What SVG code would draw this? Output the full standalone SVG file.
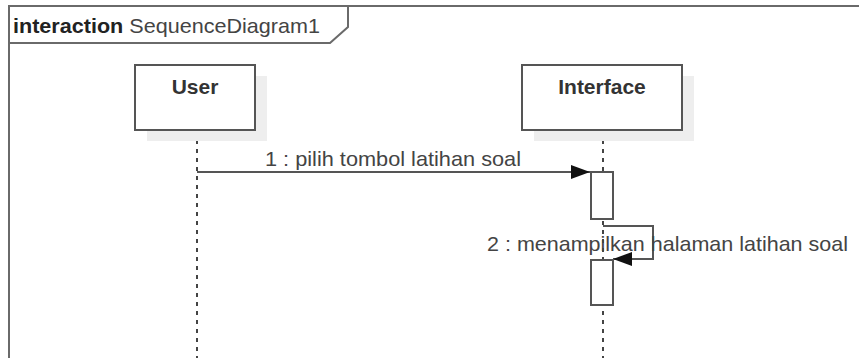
<svg xmlns="http://www.w3.org/2000/svg" width="859" height="358" viewBox="0 0 859 358">
  <defs>
    <marker id="arrowFilled" markerWidth="20" markerHeight="14" refX="19" refY="7" orient="auto" markerUnits="userSpaceOnUse">
      <path d="M0,0 L19,7 L0,14 Z" fill="#111"/>
    </marker>
    <style>
      .frame { fill: none; stroke: #6a6a6a; stroke-width: 2; }
      .box { fill: #fff; stroke: #555; stroke-width: 2; }
      .shadow { fill: #eeeeee; }
      .lifeline { stroke: #444; stroke-width: 2; stroke-dasharray: 4 5; fill: none; }
      .act { fill: #fff; stroke: #555; stroke-width: 2; }
      .msg { fill: none; stroke: #555; stroke-width: 2; }
      .name { font-family: "Liberation Sans", Arial, sans-serif; font-weight: bold; font-size: 21px; fill: #333; text-anchor: middle; }
      .label { font-family: "Liberation Sans", Arial, sans-serif; font-size: 21px; fill: #444; }
      .title { font-family: "Liberation Sans", Arial, sans-serif; font-size: 21px; fill: #444; }
    </style>
  </defs>
  <rect width="859" height="358" fill="#fff"/>

  <!-- interaction frame with name tab -->
  <g id="frame">
    <path class="frame" d="M9,358 L9,6 L859,6"/>
    <path class="frame" d="M9,43 L330,43 L348,27 L348,6"/>
    <text class="title" x="13" y="33" textLength="307" lengthAdjust="spacingAndGlyphs"><tspan font-weight="bold" fill="#222">interaction</tspan> SequenceDiagram1</text>
  </g>

  <!-- lifelines and messages -->
  <g id="connectors">
    <line class="lifeline" x1="197" y1="131" x2="197" y2="358"/>
    <line class="lifeline" x1="603" y1="131" x2="603" y2="358"/>
    <!-- message 1 -->
    <line class="msg" x1="197" y1="172" x2="590" y2="172" marker-end="url(#arrowFilled)"/>
    <text class="label" x="265" y="166" textLength="256" lengthAdjust="spacingAndGlyphs">1 : pilih tombol latihan soal</text>
    <!-- message 2 (self call) -->
    <path class="msg" d="M603,226 L653,226 L653,259 L613,259" marker-end="url(#arrowFilled)"/>
    <text class="label" x="487" y="251" textLength="361" lengthAdjust="spacingAndGlyphs">2 : menampilkan halaman latihan soal</text>
  </g>

  <g id="user">
    <rect class="shadow" x="147" y="76" width="120" height="65"/>
    <rect class="box" x="135" y="65" width="120" height="65"/>
    <text class="name" x="195" y="94">User</text>
  </g>

  <g id="interface">
    <rect class="shadow" x="534" y="76" width="160" height="65"/>
    <rect class="box" x="522" y="65" width="160" height="65"/>
    <text class="name" x="602" y="94">Interface</text>
  </g>

  <g id="activations">
    <rect class="act" x="591" y="172" width="22" height="47"/>
    <rect class="act" x="591" y="260" width="22" height="45"/>
  </g>
</svg>
